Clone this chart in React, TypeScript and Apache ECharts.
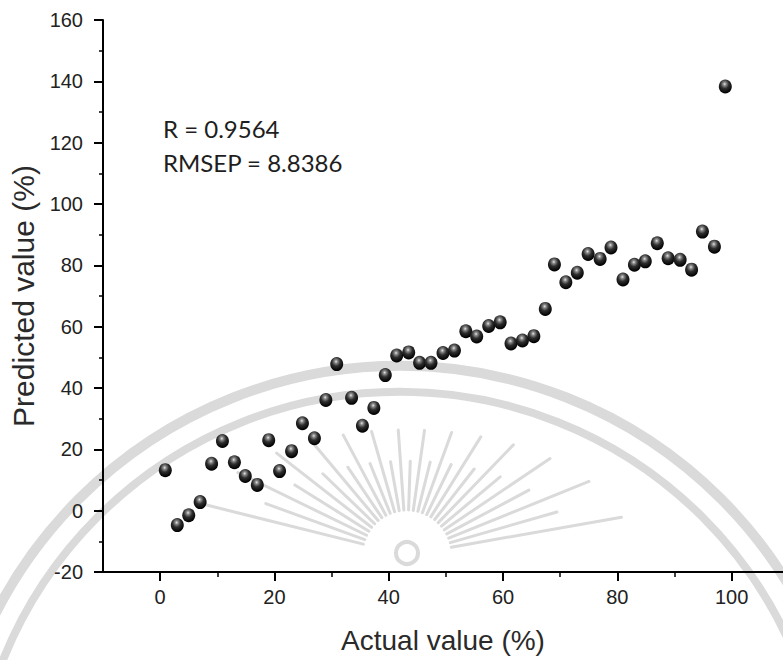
import React, { useEffect, useRef } from "react";
import * as echarts from "echarts";

const actualValues = [
  0.9, 3, 5, 7, 9, 10.9, 13, 14.9, 17, 19, 20.9, 23, 24.9, 27, 29, 30.9, 33.5,
  35.4, 37.4, 39.4, 41.4, 43.5, 45.4, 47.4, 49.5, 51.5, 53.5, 55.4, 57.5, 59.5,
  61.4, 63.4, 65.4, 67.4, 69, 71, 73, 74.9, 77, 78.9, 81, 83, 84.9, 87, 88.9, 91,
  93, 94.9, 97, 98.9,
];
const predictedValues = [
  13.2, -4.7, -1.5, 2.8, 15.3, 22.7, 15.8, 11.3, 8.4, 23, 12.9, 19.4, 28.5, 23.6,
  36.1, 47.8, 36.8, 27.7, 33.5, 44.2, 50.6, 51.6, 48.2, 48.2, 51.4, 52.2, 58.5,
  56.8, 60.2, 61.4, 54.5, 55.5, 56.9, 65.8, 80.3, 74.5, 77.6, 83.7, 82.1, 85.8,
  75.4, 80.2, 81.3, 87.2, 82.3, 81.8, 78.6, 91, 86.1, 138.3,
];
const xMajorTicks = [0, 20, 40, 60, 80, 100];
const xMinorTicks = [10, 30, 50, 70, 90];
const statLines = ["R = 0.9564", "RMSEP = 8.8386"];

const FONT = "'Liberation Sans', Arial, sans-serif";

function watermark(): any[] {
  const grey = "#dadada";
  const els: any[] = [];
  els.push({
    type: "arc",
    silent: true,
    z: -10,
    shape: { cx: 400, cy: 820, r: 454, startAngle: Math.PI, endAngle: Math.PI * 2 },
    style: { stroke: grey, lineWidth: 10, fill: "none" },
  });
  els.push({
    type: "arc",
    silent: true,
    z: -10,
    shape: { cx: 400, cy: 820, r: 428, startAngle: Math.PI, endAngle: Math.PI * 2 },
    style: { stroke: grey, lineWidth: 8, fill: "none" },
  });
  const cx = 407;
  const cy = 555;
  const a = 225;
  const b = 125;
  let k = 0;
  for (let deg = 10; deg <= 170; deg += 6, k++) {
    const phi = (deg * Math.PI) / 180;
    const c = Math.cos(phi);
    const s = Math.sin(phi);
    const L = 1 / Math.sqrt((c * c) / (a * a) + (s * s) / (b * b));
    const len = k % 2 === 0 ? L : L * 0.75;
    const r0 = 45;
    els.push({
      type: "line",
      silent: true,
      z: -10,
      shape: { x1: cx + r0 * c, y1: cy - r0 * s, x2: cx + len * c, y2: cy - len * s },
      style: { stroke: grey, lineWidth: 3, lineCap: "round" },
    });
  }
  els.push({
    type: "circle",
    silent: true,
    z: -10,
    shape: { cx, cy: cy - 2, r: 11 },
    style: { stroke: grey, lineWidth: 4, fill: "none" },
  });
  return els;
}

export default function App() {
  const ref = useRef<HTMLDivElement>(null);

  useEffect(() => {
    if (!ref.current) return;
    const chart = echarts.init(ref.current, null, { renderer: "svg" });
    const data = actualValues.map((x, i) => [x, predictedValues[i]]);

    const sphere = new echarts.graphic.RadialGradient(0.45, 0.32, 0.65, [
      { offset: 0, color: "#e8e8e8" },
      { offset: 0.18, color: "#8c8c8c" },
      { offset: 0.5, color: "#2e2e2e" },
      { offset: 1, color: "#000000" },
    ]);

    const axisLineStyle = { color: "#000", width: 2 };

    chart.setOption({
      animation: false,
      backgroundColor: "#ffffff",
      grid: {
        left: 103,
        right: 0,
        top: 20,
        bottom: 88,
        containLabel: false,
        outerBoundsMode: "none",
      },
      xAxis: [
        {
          type: "value",
          min: -10,
          max: 109,
          position: "bottom",
          name: "Actual value (%)",
          nameLocation: "middle",
          nameGap: 54,
          nameTextStyle: { fontSize: 28, fontFamily: FONT, color: "#2a2a2a" },
          axisLine: { show: true, onZero: false, lineStyle: axisLineStyle },
          axisTick: {
            show: true,
            customValues: xMajorTicks,
            length: 9,
            lineStyle: axisLineStyle,
          },
          axisLabel: {
            customValues: xMajorTicks,
            margin: 15,
            fontSize: 20,
            fontFamily: FONT,
            color: "#222",
          },
          splitLine: { show: false },
        },
        {
          type: "value",
          min: -10,
          max: 109,
          position: "bottom",
          axisLine: { show: false, onZero: false },
          axisTick: {
            show: true,
            customValues: xMinorTicks,
            length: 5,
            lineStyle: { color: "#000", width: 1.5 },
          },
          axisLabel: { show: false },
          splitLine: { show: false },
        },
      ],
      yAxis: {
        type: "value",
        min: -20,
        max: 160,
        interval: 20,
        name: "Predicted value (%)",
        nameLocation: "middle",
        nameGap: 63,
        nameTextStyle: { fontSize: 30, fontFamily: FONT, color: "#2a2a2a" },
        axisLine: { show: true, onZero: false, lineStyle: axisLineStyle },
        axisTick: { show: true, length: 9, lineStyle: axisLineStyle },
        minorTick: {
          show: true,
          splitNumber: 2,
          length: 4,
          lineStyle: { color: "#000", width: 1.5 },
        },
        axisLabel: {
          margin: 20,
          fontSize: 20,
          fontFamily: FONT,
          color: "#222",
        },
        splitLine: { show: false },
        minorSplitLine: { show: false },
      },
      graphic: [
        ...watermark(),
        {
          type: "text",
          z: 10,
          x: 163,
          y: 128,
          style: {
            text: statLines[0],
            fontSize: 24,
            fontFamily: "Lato, 'Open Sans', sans-serif",
            fill: "#1e1e1e",
            verticalAlign: "middle",
          },
        },
        {
          type: "text",
          z: 10,
          x: 163,
          y: 162,
          style: {
            text: statLines[1],
            fontSize: 24,
            fontFamily: "Lato, 'Open Sans', sans-serif",
            fill: "#1e1e1e",
            verticalAlign: "middle",
          },
        },
      ],
      series: [
        {
          type: "scatter",
          xAxisIndex: 0,
          yAxisIndex: 0,
          data,
          symbol: "circle",
          symbolSize: [13, 14],
          z: 5,
          itemStyle: { color: sphere, opacity: 1 },
        },
      ],
    });

    return () => chart.dispose();
  }, []);

  return (
    <div
      ref={ref}
      style={{ position: "fixed", left: 0, top: 0, width: 783, height: 660 }}
    />
  );
}
